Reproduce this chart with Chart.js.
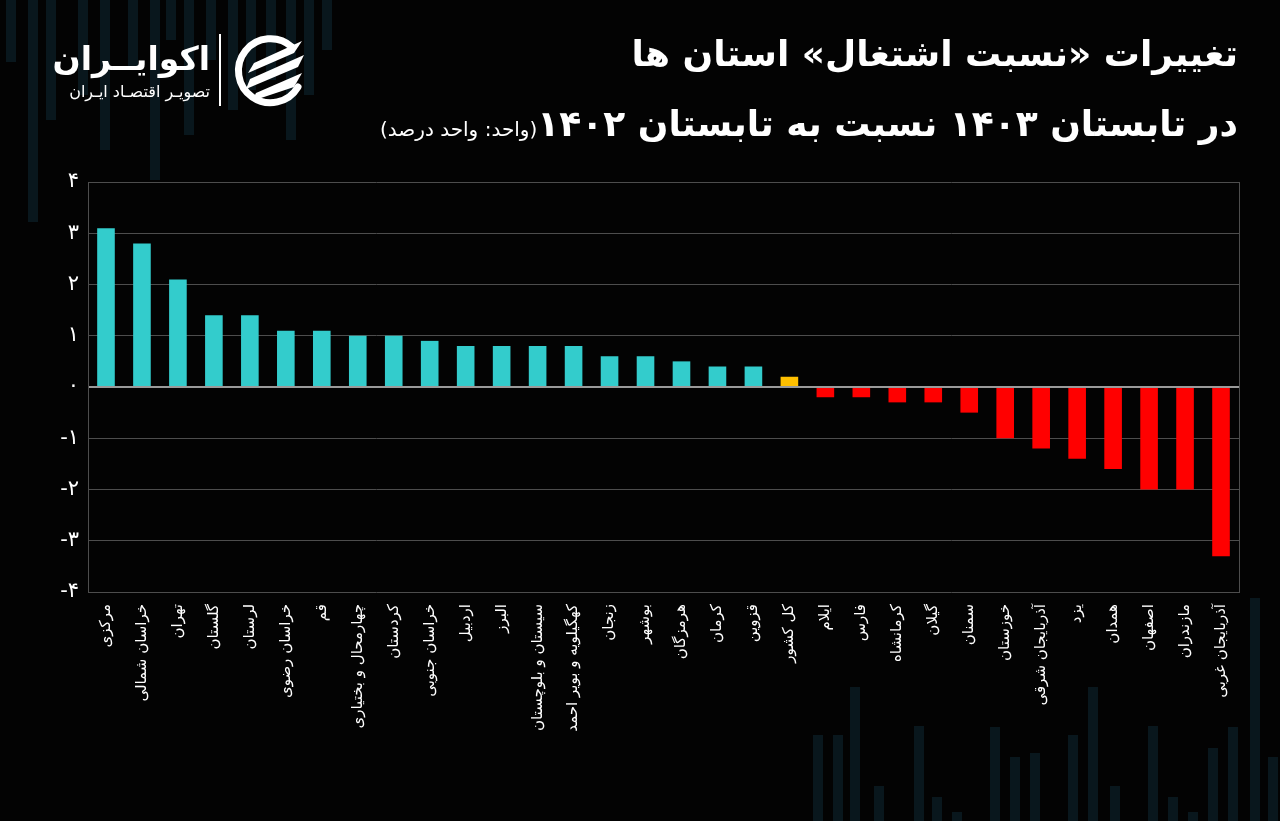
<!DOCTYPE html>
<html lang="fa">
<head>
<meta charset="utf-8">
<title>تغییرات نسبت اشتغال استان ها</title>
<script src="https://cdn.jsdelivr.net/npm/chart.js@4/dist/chart.umd.min.js"></script>
<style>
  html, body { margin: 0; padding: 0; background: #030303; }
  #page { position: relative; width: 1280px; height: 821px; overflow: hidden; background: #030303; font-family: 'DejaVu Sans', sans-serif; }
  #deco span { position: absolute; width: 10px; background: #09171d; }
  #chart { position: absolute; left: 0; top: 0; }
  .title { position: absolute; right: 42px; color: #fff; font-weight: bold; direction: rtl; white-space: nowrap; }
  #t1 { top: 33px; font-size: 36px; }
  #t2 { top: 103px; font-size: 36px; }
  #t2 .unit { font-size: 20px; font-weight: normal; }
  #brand { position: absolute; right: 1070px; top: 38px; color: #fff; direction: rtl; text-align: right; white-space: nowrap; }
  #brand .name { font-size: 33px; font-weight: bold; line-height: 42px; }
  #brand .tag { font-size: 16px; line-height: 20px; margin-top: 2px; }
  #divider { position: absolute; left: 219px; top: 34px; width: 2px; height: 72px; background: #fff; }
  #icon { position: absolute; left: 232px; top: 33px; }
</style>
</head>
<body>
<div id="page">
  <div id="deco"></div>
  <canvas id="chart" width="1280" height="821"></canvas>
  <div class="title" id="t1">تغییرات «نسبت اشتغال» استان ها</div>
  <div class="title" id="t2">در تابستان ۱۴۰۳ نسبت به تابستان ۱۴۰۲<span class="unit">(واحد: واحد درصد)</span></div>
  <div id="brand"><div class="name">اکوایــران</div><div class="tag">تصویـر اقتصـاد ایـران</div></div>
  <div id="divider"></div>
  <svg id="icon" width="76" height="76" viewBox="0 0 76 76">
    <path d="M60 14 A32 32 0 1 0 66 54" fill="none" stroke="#fff" stroke-width="7" stroke-linecap="round"/>
    <polygon points="22,30 70,8 62,20 16,40" fill="#fff"/>
    <polygon points="18,46 72,22 66,34 14,56" fill="#fff"/>
    <polygon points="24,60 70,40 62,54 20,68" fill="#fff"/>
  </svg>
</div>
<script>
// provinces, sorted as in the source picture
const provinces = [
  'مرکزی', 'خراسان شمالی', 'تهران', 'گلستان', 'لرستان', 'خراسان رضوی', 'قم',
  'چهارمحال و بختیاری', 'کردستان', 'خراسان جنوبی', 'اردبیل', 'البرز',
  'سیستان و بلوچستان', 'کهگیلویه و بویر احمد', 'زنجان', 'بوشهر', 'هرمزگان',
  'کرمان', 'قزوین', 'کل کشور', 'ایلام', 'فارس', 'کرمانشاه', 'گیلان', 'سمنان',
  'خوزستان', 'آذربایجان شرقی', 'یزد', 'همدان', 'اصفهان', 'مازندران', 'آذربایجان غربی'
];

// change in employment ratio (percentage points)
const changes = [
  3.1, 2.8, 2.1, 1.4, 1.4, 1.1, 1.1,
  1.0, 1.0, 0.9, 0.8, 0.8,
  0.8, 0.8, 0.6, 0.6, 0.5,
  0.4, 0.4, 0.2, -0.2, -0.2, -0.3, -0.3, -0.5,
  -1.0, -1.2, -1.4, -1.6, -2.0, -2.0, -3.3
];

const yMin = -4;
const yMax = 4;
const totalLabel = 'کل کشور';

const faDigits = '۰۱۲۳۴۵۶۷۸۹';
const toFa = s => String(s).replace(/\d/g, d => faDigits[d]);

// faint background stripes (decoration only)
const decoTop = [[6,0,62],[28,0,222],[46,0,120],[78,0,95],[100,0,150],[128,0,70],[150,0,180],[166,0,40],[184,0,135],[206,0,60],[228,0,110],[246,0,90],[266,0,80],[286,0,140],[304,0,95],[322,0,50]];
const decoBottom = [[813,735],[833,735],[850,687],[874,786],[914,726],[932,797],[952,812],[990,727],[1010,757],[1030,753],[1068,735],[1088,687],[1110,786],[1148,726],[1168,797],[1188,812],[1208,748],[1228,727],[1250,598],[1268,757]];
const deco = document.getElementById('deco');
decoTop.forEach(([x, y, h]) => {
  const s = document.createElement('span');
  s.style.left = x + 'px'; s.style.top = y + 'px'; s.style.height = h + 'px';
  deco.appendChild(s);
});
decoBottom.forEach(([x, y]) => {
  const s = document.createElement('span');
  s.style.left = x + 'px'; s.style.top = y + 'px'; s.style.height = (821 - y) + 'px';
  deco.appendChild(s);
});

const barColors = provinces.map((p, i) =>
  p === totalLabel ? '#ffc000' : (changes[i] < 0 ? '#ff0000' : '#33cccc'));

Chart.defaults.font.family = "'DejaVu Sans', sans-serif";

new Chart(document.getElementById('chart'), {
  type: 'bar',
  data: {
    labels: provinces,
    datasets: [{
      data: changes,
      backgroundColor: barColors,
      borderWidth: 0,
      barPercentage: 0.49,
      categoryPercentage: 1
    }]
  },
  options: {
    responsive: false,
    animation: false,
    layout: { padding: { top: 182, right: 41, left: 0, bottom: 0 } },
    plugins: {
      legend: { display: false },
      tooltip: { enabled: false }
    },
    scales: {
      x: {
        grid: { display: false },
        border: { display: false },
        ticks: {
          color: '#ffffff',
          font: { size: 15 },
          minRotation: 90,
          maxRotation: 90,
          autoSkip: false,
          padding: 4
        },
        afterFit: scale => { scale.height = 229; }
      },
      y: {
        min: yMin,
        max: yMax,
        grid: {
          color: ctx => ctx.tick && ctx.tick.value === 0 ? '#9a9a9a' : '#4d4d4d',
          lineWidth: ctx => ctx.tick && ctx.tick.value === 0 ? 2 : 1,
          drawTicks: false
        },
        border: { display: true, color: '#4d4d4d' },
        ticks: {
          stepSize: 1,
          color: '#ffffff',
          font: { size: 21 },
          padding: 9,
          callback: v => toFa(v)
        },
        afterFit: scale => { scale.width = 88; }
      },
      right: {
        position: 'right',
        grid: { display: false },
        border: { display: true, color: '#4d4d4d' },
        ticks: { display: false },
        afterFit: scale => { scale.width = 0; }
      }
    }
  }
});
</script>
</body>
</html>
